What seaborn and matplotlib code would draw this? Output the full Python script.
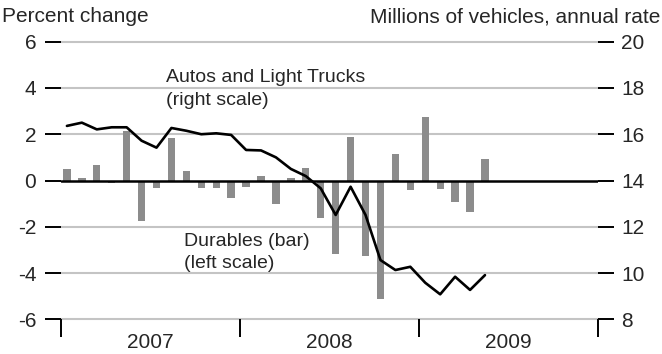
import numpy as np
import pandas as pd
import matplotlib
matplotlib.use("Agg")
import matplotlib.pyplot as plt
import seaborn as sns

# Monthly data, January 2007 through May 2009
months = pd.date_range("2007-01-01", periods=29, freq="MS")

# Durable goods orders, percent change (left scale)
durables = [0.51, 0.11, 0.67, -0.09, 2.15, -1.75, -0.31, 1.82, 0.40, -0.31, -0.31, -0.77,
            -0.28, 0.19, -1.00, 0.12, 0.54, -1.64, -3.18, 1.88, -3.26, -5.14, 1.15, -0.41,
            2.76, -0.35, -0.93, -1.36, 0.94]

# Autos and light truck sales, millions of vehicles at annual rate (right scale)
vehicles = [16.36, 16.50, 16.21, 16.30, 16.30, 15.72, 15.42, 16.27, 16.15, 16.00, 16.04, 15.97,
            15.32, 15.30, 15.00, 14.50, 14.19, 13.66, 12.51, 13.73, 12.51, 10.56, 10.13, 10.27,
            9.58, 9.08, 9.84, 9.27, 9.91]

years = ["2007", "2008", "2009"]
left_ticks = [-6, -4, -2, 0, 2, 4, 6]
right_ticks = [8, 10, 12, 14, 16, 18, 20]

FONT = ["Liberation Sans", "DejaVu Sans"]
sns.set_theme(style="white")
plt.rcParams["font.family"] = FONT
FS = 15      # axis titles and tick labels
FS_NOTE = 14  # series labels

# x position: months since Jan 2007, each point placed a little inside its month
month_idx = (months.year - 2007) * 12 + (months.month - 1)
df = pd.DataFrame({
    "x": month_idx + 0.43,
    "durables": durables,
    "vehicles": vehicles,
})

fig = plt.figure(figsize=(6.62, 3.54), dpi=100)
ax = fig.add_axes([60.5 / 662, 34.7 / 354, 537.5 / 662, 277.6 / 354])
ax.set_facecolor("none")

# grey horizontal guides (not clipped so the edge ones show in full)
for v in left_ticks:
    if v != 0:
        ax.axhline(v, color="#c4c4c4", lw=1.5, zorder=0, clip_on=False)

sns.barplot(data=df, x="x", y="durables", native_scale=True, width=0.49,
            color="#8c8c8c", saturation=1, edgecolor="none", ax=ax, zorder=2)
ax.axhline(0, color="black", lw=1.8, zorder=3)

ax.set_xlim(0, 36)
ax.set_ylim(-6, 6)
for s in ax.spines.values():
    s.set_visible(False)

ax.set_yticks(left_ticks)
ax.set_yticklabels([str(v) for v in left_ticks])
ax.tick_params(axis="y", left=True, length=11.5, width=1.4, color="black",
               pad=6, labelsize=FS)

ax.set_xticks([0, 12, 24, 36])
ax.set_xticklabels([])
ax.set_xticks([6, 18, 30], minor=True)
ax.set_xticklabels(years, minor=True)
ax.tick_params(axis="x", which="major", bottom=True, length=13, width=1.4,
               color="black", direction="out")
ax.tick_params(axis="x", which="minor", bottom=True, length=0, pad=10, labelsize=FS)
ax.set_xlabel("")
ax.set_ylabel("")

ax2 = ax.twinx()
sns.lineplot(data=df, x="x", y="vehicles", color="black", lw=1.9, ax=ax2)
ax2.set_ylim(8, 20)
ax2.set_xlim(0, 36)
for s in ax2.spines.values():
    s.set_visible(False)
ax2.set_yticks(right_ticks)
ax2.set_yticklabels([str(v) for v in right_ticks])
ax2.tick_params(axis="y", right=True, length=11.5, width=1.4, color="black",
                pad=5, labelsize=FS)
ax2.set_ylabel("")

# series labels
ax.text(7.05, 4.45, "Autos and Light Trucks", fontsize=FS_NOTE, va="center", ha="left")
ax.text(7.05, 3.45, "(right scale)", fontsize=FS_NOTE, va="center", ha="left")
ax.text(8.25, -2.65, "Durables (bar)", fontsize=FS_NOTE, va="center", ha="left")
ax.text(8.25, -3.6, "(left scale)", fontsize=FS_NOTE, va="center", ha="left")

fig.text(2 / 662, 1 - 17 / 354, "Percent change", fontsize=FS, va="center", ha="left")
fig.text(660 / 662, 1 - 17 / 354, "Millions of vehicles, annual rate", fontsize=FS,
         va="center", ha="right")

fig.savefig("out.png", dpi=100)
